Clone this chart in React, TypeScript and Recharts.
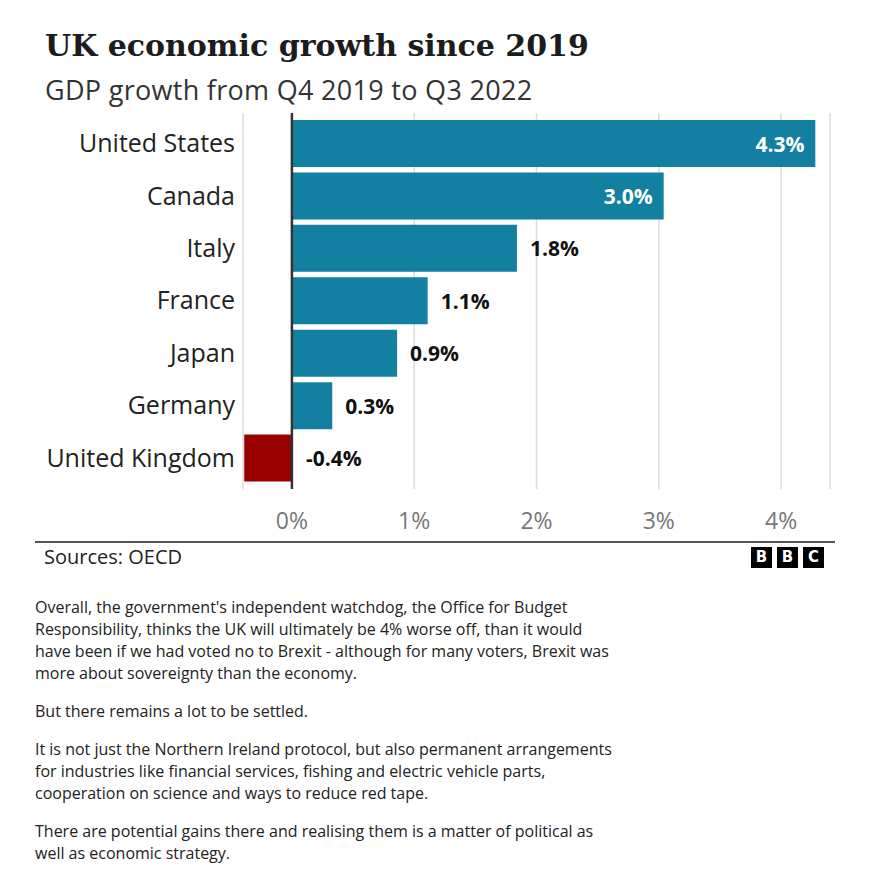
import React from "react";
import {
  BarChart,
  Bar,
  XAxis,
  YAxis,
  CartesianGrid,
  ReferenceLine,
  Cell,
  LabelList,
} from "recharts";

const countries = [
  "United States",
  "Canada",
  "Italy",
  "France",
  "Japan",
  "Germany",
  "United Kingdom",
];
const growth = [4.28, 3.04, 1.84, 1.11, 0.86, 0.33, -0.39];
const xTicks = [0, 1, 2, 3, 4];

const paragraphs = [
  [
    "Overall, the government's independent watchdog, the Office for Budget",
    "Responsibility, thinks the UK will ultimately be 4% worse off, than it would",
    "have been if we had voted no to Brexit - although for many voters, Brexit was",
    "more about sovereignty than the economy.",
  ],
  ["But there remains a lot to be settled."],
  [
    "It is not just the Northern Ireland protocol, but also permanent arrangements",
    "for industries like financial services, fishing and electric vehicle parts,",
    "cooperation on science and ways to reduce red tape.",
  ],
  [
    "There are potential gains there and realising them is a matter of political as",
    "well as economic strategy.",
  ],
];

const SANS = "'Open Sans', 'Noto Sans', sans-serif";
const BLUE = "#1380a1";
const RED = "#990000";

const data = countries.map((c, i) => ({ country: c, value: growth[i] }));

// value labels: inside long bars, after short ones, right of zero for negatives
const ValueLabel = (props: any) => {
  const { x, y, width, height, value } = props;
  const text = `${Number(value).toFixed(1)}%`;
  const cy = y + height / 2;
  const end = x + width;
  const common = { y: cy, dominantBaseline: "central", fontFamily: SANS, fontWeight: 700, fontSize: 21 } as any;
  if (value < 0) {
    return (
      <text {...common} x={Math.max(x, end) + 14} fill="#111">
        {text}
      </text>
    );
  }
  if (width > 300) {
    return (
      <text {...common} x={end - 11} textAnchor="end" fill="#fff">
        {text}
      </text>
    );
  }
  return (
    <text {...common} x={end + 13} fill="#111">
      {text}
    </text>
  );
};

const App = () => {
  return (
    <div
      style={{
        position: "absolute",
        left: 0,
        top: 0,
        width: 878,
        height: 878,
        background: "#fff",
        fontFamily: SANS,
        color: "#222",
      }}
    >
      <div
        style={{
          position: "absolute",
          left: 45,
          top: 26,
          fontFamily: "'DejaVu Serif', serif",
          fontWeight: 700,
          fontSize: 30,
          lineHeight: "40px",
          color: "#1c1c1c",
          whiteSpace: "nowrap",
        }}
      >
        UK economic growth since 2019
      </div>
      <div
        style={{
          position: "absolute",
          left: 45,
          top: 73,
          fontSize: 27,
          letterSpacing: 0.3,
          lineHeight: "34px",
          color: "#333",
          whiteSpace: "nowrap",
        }}
      >
        GDP growth from Q4 2019 to Q3 2022
      </div>

      <div style={{ position: "absolute", left: 0, top: 0 }}>
        <BarChart
          width={878}
          height={545}
          data={data}
          layout="vertical"
          margin={{ top: 113, right: 48, bottom: 0, left: 0 }}
        >
          <CartesianGrid horizontal={false} stroke="#dcdcdc" strokeWidth={1.5} />
          <XAxis
            type="number"
            domain={[-0.4, 4.4]}
            ticks={xTicks}
            allowDataOverflow
            tickFormatter={(v) => `${v}%`}
            axisLine={false}
            tickLine={false}
            tickMargin={18}
            height={56}
            tick={{ fill: "#777", fontSize: 23, fontFamily: SANS }}
          />
          <YAxis
            type="category"
            dataKey="country"
            width={243}
            interval={0}
            axisLine={false}
            tickLine={false}
            padding={{ top: 4, bottom: 5 }}
            tick={{ fill: "#222", fontSize: 25, fontFamily: SANS }}
          />
          <Bar dataKey="value" barSize={47} isAnimationActive={false}>
            {data.map((d) => (
              <Cell key={d.country} fill={d.value < 0 ? RED : BLUE} />
            ))}
            <LabelList dataKey="value" content={ValueLabel} />
          </Bar>
          <ReferenceLine x={0} stroke="#333" strokeWidth={2.5} />
        </BarChart>
      </div>

      <div
        style={{
          position: "absolute",
          left: 35,
          top: 541,
          width: 800,
          height: 0,
          borderTop: "2px solid #555",
        }}
      />
      <div
        style={{
          position: "absolute",
          left: 44,
          top: 545,
          fontSize: 20,
          lineHeight: "24px",
          color: "#222",
        }}
      >
        Sources: OECD
      </div>
      <div style={{ position: "absolute", left: 751, top: 547, display: "flex", gap: 5 }}>
        {["B", "B", "C"].map((l, i) => (
          <div
            key={i}
            style={{
              width: 21,
              height: 21,
              background: "#000",
              color: "#fff",
              fontWeight: 700,
              fontSize: 15,
              lineHeight: "21px",
              textAlign: "center",
              fontFamily: "'DejaVu Sans', sans-serif",
            }}
          >
            {l}
          </div>
        ))}
      </div>

      <div style={{ position: "absolute", left: 35, top: 596, fontSize: 16, lineHeight: "22px", color: "#222" }}>
        {paragraphs.map((lines, i) => (
          <p key={i} style={{ margin: 0, marginBottom: 16, whiteSpace: "nowrap" }}>
            {lines.map((l, j) => (
              <React.Fragment key={j}>
                {l}
                {j < lines.length - 1 && <br />}
              </React.Fragment>
            ))}
          </p>
        ))}
      </div>
    </div>
  );
};

export default App;
